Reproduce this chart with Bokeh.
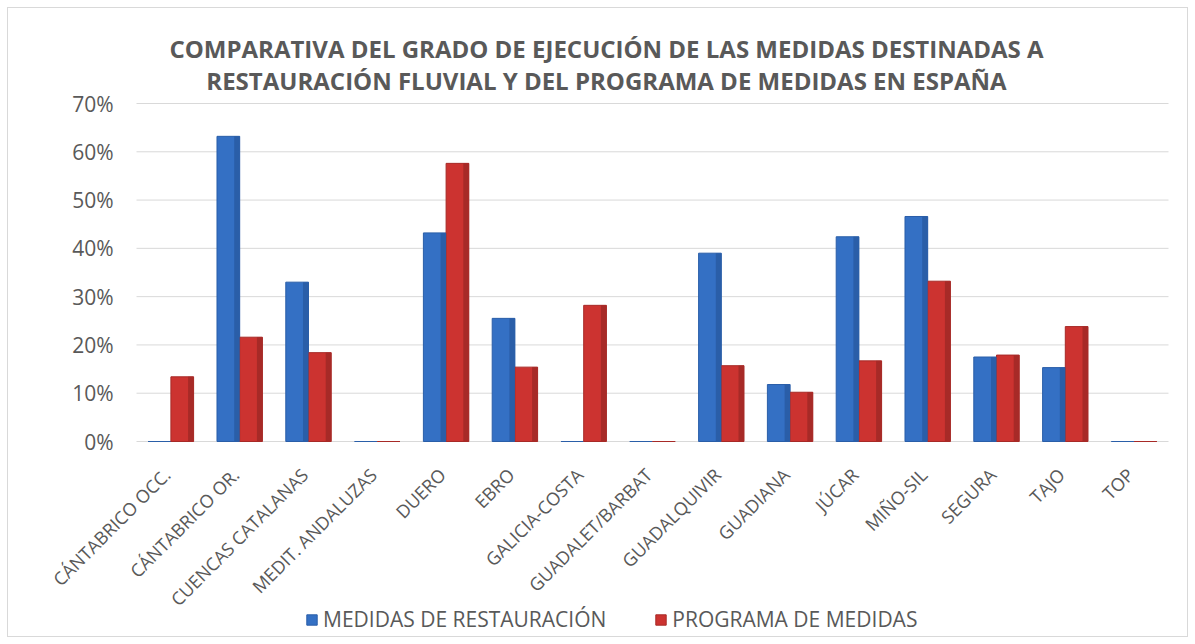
from math import pi
from bokeh.plotting import figure
from bokeh.models import ColumnDataSource, Legend, LegendItem, Range1d
from bokeh.core.properties import value
from bokeh.transform import dodge
from bokeh.embed import file_html
from bokeh.resources import INLINE

categories = ["CÁNTABRICO OCC.", "CÁNTABRICO OR.", "CUENCAS CATALANAS", "MEDIT. ANDALUZAS",
              "DUERO", "EBRO", "GALICIA-COSTA", "GUADALET/BARBAT", "GUADALQUIVIR",
              "GUADIANA", "JÚCAR", "MIÑO-SIL", "SEGURA", "TAJO", "TOP"]
restauracion = [0.0, 0.632, 0.330, 0.0, 0.432, 0.255, 0.0, 0.0, 0.390,
                0.118, 0.424, 0.466, 0.175, 0.153, 0.0]
programa = [0.134, 0.216, 0.184, 0.0, 0.576, 0.154, 0.282, 0.0, 0.157,
            0.102, 0.167, 0.332, 0.179, 0.238, 0.0]
series_names = ["MEDIDAS DE RESTAURACIÓN", "PROGRAMA DE MEDIDAS"]
title_lines = ["COMPARATIVA DEL GRADO DE EJECUCIÓN DE LAS MEDIDAS DESTINADAS A",
               "RESTAURACIÓN FLUVIAL Y DEL PROGRAMA DE MEDIDAS EN ESPAÑA"]
y_ticks = [0, 0.1, 0.2, 0.3, 0.4, 0.5, 0.6, 0.7]
y_tick_labels = ["0%", "10%", "20%", "30%", "40%", "50%", "60%", "70%"]

n = len(categories)
idx = list(range(n))
src = ColumnDataSource(dict(idx=idx, cat=categories, rest=restauracion, prog=programa,
                            zero=[0] * n))
ysrc = ColumnDataSource(dict(y=y_ticks, lab=y_tick_labels,
                             x0=[-0.5] * len(y_ticks), x1=[n - 0.5] * len(y_ticks)))

FONT = "Open Sans"
GRAY = "#595959"
# layout in pixels (whole canvas is the frame)
LEFT_PAD, CAT_AREA, RIGHT_PAD = 128, 1032, 19
TOP_PAD, PLOT_H, BELOW_H = 95, 338, 195
FW = LEFT_PAD + CAT_AREA + RIGHT_PAD
FH = TOP_PAD + PLOT_H + BELOW_H
cat_w = CAT_AREA / n
vmax = y_ticks[-1]
px_y = vmax / PLOT_H
xstart = -0.5 - LEFT_PAD / cat_w
ymax = vmax + TOP_PAD * px_y
ymin = -BELOW_H * px_y

p = figure(x_range=Range1d(xstart, n - 0.5 + RIGHT_PAD / cat_w),
           y_range=Range1d(ymin, ymax), frame_width=FW, frame_height=FH,
           output_backend="svg", toolbar_location=None,
           min_border_left=0, min_border_right=0, min_border_top=0, min_border_bottom=0)
p.background_fill_color = "white"
p.border_fill_color = "white"
p.outline_line_color = None
p.styles = {"margin": "7px", "border": "1px solid #d9d9d9"}
p.xaxis.visible = False
p.yaxis.visible = False
p.xgrid.grid_line_color = None
p.ygrid.grid_line_color = None

# title (two centred lines placed by pixel layout)
TITLE_CX, TITLE_Y = 598, [40, 72]
tsrc = ColumnDataSource(dict(x=[xstart + TITLE_CX / cat_w] * 2,
                             y=[ymax - t * px_y for t in TITLE_Y], t=title_lines))
p.text(x="x", y="y", text="t", source=tsrc, text_align="center", text_baseline="middle",
       text_font=value(FONT), text_font_size="24px", text_font_style="bold", text_color=GRAY)

# gridlines and y tick labels
p.segment(x0="x0", x1="x1", y0="y", y1="y", source=ysrc, line_color="#d9d9d9", line_width=1)
p.text(x="x0", y="y", text="lab", source=ysrc, x_offset=-23, text_align="right",
       text_baseline="middle", text_font=value(FONT), text_font_size="21px", text_color=GRAY)

blue = p.vbar(x=dodge("idx", -0.165), top="rest", width=0.33, source=src,
              fill_color="#3470C4", line_color="#2A5EA8", line_width=1)
red = p.vbar(x=dodge("idx", 0.165), top="prog", width=0.33, source=src,
             fill_color="#CC3330", line_color="#A72A27", line_width=1)
p.vbar(x=dodge("idx", -0.04), top="rest", width=0.08, source=src,
       fill_color="#2A5EA8", line_color=None)
p.vbar(x=dodge("idx", 0.29), top="prog", width=0.08, source=src,
       fill_color="#A72A27", line_color=None)

# category labels, rotated 45 degrees, hanging below the 0% line
p.text(x="idx", y="zero", text="cat", source=src, angle=pi / 4,
       text_align="right", text_baseline="middle", x_offset=-4, y_offset=30,
       text_font=value(FONT), text_font_size="18px", text_color=GRAY)

legend = Legend(items=[LegendItem(label=series_names[0], renderers=[blue]),
                       LegendItem(label=series_names[1], renderers=[red])],
                orientation="horizontal", location=(297, 3),
                label_text_font=FONT, label_text_font_size="21px", label_text_color=GRAY,
                glyph_width=13, glyph_height=13, spacing=48, border_line_color=None,
                background_fill_alpha=0, padding=0, margin=0, label_standoff=5)
p.add_layout(legend, "center")

open("out.html", "w").write(file_html(p, INLINE))
